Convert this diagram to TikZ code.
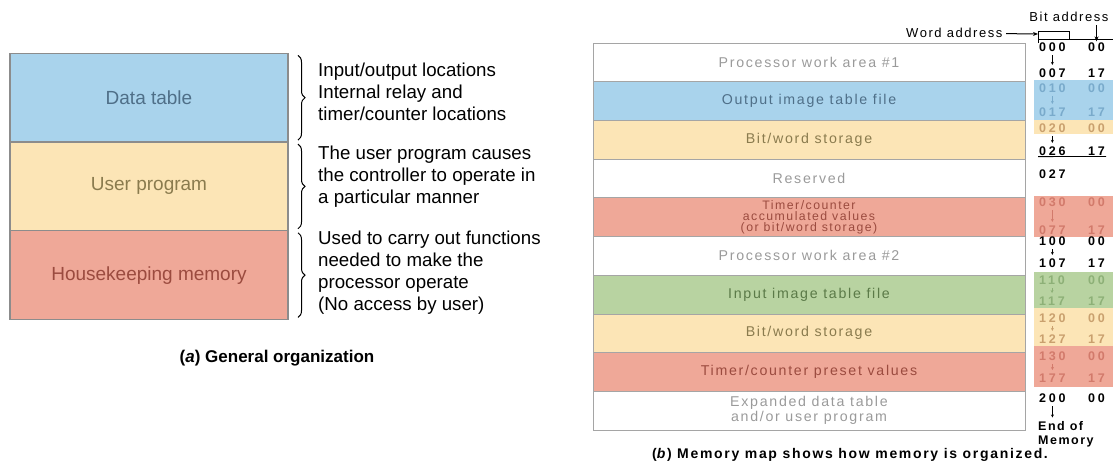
\documentclass[tikz,border=0pt]{standalone}
\usepackage{fontspec}
\setmainfont{Liberation Sans}
\newfontfamily\spacedfont[LetterSpace=12]{Liberation Sans}
\newfontfamily\addrfont[LetterSpace=22]{Liberation Sans}
\usepackage{xcolor}
\usepackage{tikz}
\usetikzlibrary{positioning,decorations.pathreplacing,arrows.meta}

\definecolor{dtblue}{HTML}{A9D3EC}
\definecolor{upcream}{HTML}{FCE5B6}
\definecolor{hksalmon}{HTML}{EFA898}
\definecolor{iigreen}{HTML}{B8D3A1}
\definecolor{boxframe}{HTML}{8C8C8C}
\definecolor{mapframe}{HTML}{A5A5A5}
\definecolor{bluetxt}{HTML}{4F6F88}
\definecolor{creamtxt}{HTML}{8A7B4E}
\definecolor{salmontxt}{HTML}{9B4B3F}
\definecolor{greentxt}{HTML}{5B7A48}
\definecolor{greytxt}{HTML}{9A9A9A}
\definecolor{bluead}{HTML}{79AACB}
\definecolor{tanad}{HTML}{C9A06E}
\definecolor{redad}{HTML}{D27A6B}
\definecolor{greenad}{HTML}{8DB077}

\tikzset{
  leftrow/.style={draw=boxframe, line width=1.2pt, minimum width=278pt,
    minimum height=88.7pt, inner sep=0pt, outer sep=0pt,
    font=\fontsize{19}{22}\selectfont},
  maprow/.style={draw=mapframe, line width=0.8pt, minimum width=432pt,
    minimum height=38.7pt, inner sep=0pt, outer sep=0pt, align=center,
    text=greytxt, font=\spacedfont\fontsize{14.2}{15}\selectfont},
  note/.style={anchor=west, align=left, inner sep=0pt,
    font=\fontsize{18.7}{22}\selectfont},
  bracket/.style={decorate, decoration={brace, amplitude=7pt}, line width=1pt},
  addr/.style={anchor=west, inner sep=1pt,
    font=\addrfont\bfseries\fontsize{12.5}{14}\selectfont},
  addrtip/.style={-{Stealth[length=3pt,width=3pt]}, line width=0.8pt,
    shorten <=2.5pt, shorten >=2.5pt},
  tip/.style={-{Stealth[length=5pt,width=4pt]}, line width=1pt}
}

\begin{document}
\begin{tikzpicture}[x=1pt, y=-1pt, on grid]
  \useasboundingbox (0,0) rectangle (1113,466);

  % (a) general organization
  \node[leftrow, fill=dtblue, text=bluetxt] (dt) at (149,97.7) {Data table};
  \node[leftrow, fill=upcream, text=creamtxt, below=88.7pt of dt] (up) {User program};
  \node[leftrow, fill=hksalmon, text=salmontxt, below=88.7pt of up] (hk) {Housekeeping memory};

  \draw[bracket] ([xshift=10pt,yshift=-2pt]dt.north east) -- ([xshift=10pt,yshift=2pt]dt.south east);
  \draw[bracket] ([xshift=10pt,yshift=-2pt]up.north east) -- ([xshift=10pt,yshift=2pt]up.south east);
  \draw[bracket] ([xshift=10pt,yshift=-2pt]hk.north east) -- ([xshift=10pt,yshift=2pt]hk.south east);

  \node[note] (n1) at (318,92) {Input/output locations\\Internal relay and\\timer/counter locations};
  \node[note] (n2) at (318,177) {The user program causes\\the controller to operate in\\a particular manner};
  \node[note] (n3) at (318,273) {Used to carry out functions\\needed to make the\\processor operate\\(No access by user)};

  \node[font=\bfseries\fontsize{17}{20}\selectfont] (capa) at (277,358) {(\textit{a}) General organization};

  % (b) memory map
  \fill[dtblue] (1034,80) rectangle (1113,120);
  \fill[upcream] (1034,120) rectangle (1113,134);
  \fill[hksalmon] (1034,196) rectangle (1113,237);
  \fill[iigreen] (1034,272) rectangle (1113,308);
  \fill[upcream] (1034,308) rectangle (1113,346);
  \fill[hksalmon] (1034,346) rectangle (1113,387);

  \node[maprow] (r1) at (809,62.35) {Processor work area \#1};
  \node[maprow, fill=dtblue, text=bluetxt, below=38.7pt of r1] (r2) {Output image table file};
  \node[maprow, fill=upcream, text=creamtxt, below=38.7pt of r2] (r3) {Bit/word storage};
  \node[maprow, below=38.7pt of r3] (r4) {Reserved};
  \node[maprow, fill=hksalmon, text=salmontxt, below=38.7pt of r4,
    font=\spacedfont\fontsize{12.3}{10.8}\selectfont] (r5) {Timer/counter\\accumulated values\\(or bit/word storage)};
  \node[maprow, below=38.7pt of r5] (r6) {Processor work area \#2};
  \node[maprow, fill=iigreen, text=greentxt, below=38.7pt of r6] (r7) {Input image table file};
  \node[maprow, fill=upcream, text=creamtxt, below=38.7pt of r7] (r8) {Bit/word storage};
  \node[maprow, fill=hksalmon, text=salmontxt, below=38.7pt of r8] (r9) {Timer/counter preset values};
  \node[maprow, below=38.7pt of r9] (r10) {Expanded data table\\and/or user program};

  % addresses
  \foreach \w/\b/\y/\c in {000/00/47/black, 007/17/73/black, 010/00/88/bluead,
      017/17/112/bluead, 020/00/128/tanad, 026/17/151/black, 030/00/202/redad,
      077/17/230/redad, 100/00/241/black, 107/17/263/black, 110/00/280/greenad,
      117/17/301/greenad, 120/00/318/tanad, 127/17/339/tanad, 130/00/356/redad,
      177/17/378/redad, 200/00/398/black}
  {
    \node[addr, text=\c] (w\y) at (1038,\y) {\w};
    \node[addr, text=\c] (b\y) at (1087,\y) {\b};
  }
  \node[addr] (w174) at (1038,174) {027};
  \node[addr, anchor=north west, align=left, font=\spacedfont\bfseries\fontsize{12.5}{14}\selectfont] (eom) at (1037,420) {End of\\Memory};

  \foreach \a/\b/\c in {47/73/black, 88/112/bluead, 128/151/black, 202/230/redad,
      241/263/black, 280/301/greenad, 318/339/tanad, 356/378/redad}
    \draw[addrtip, \c] (w\a) -- (w\b);
  \draw[addrtip] (w398) -- (eom.north -| w398);
  \draw[line width=0.8pt] (w151.south west) -- (b151.south east);

  % address legend
  \node[font=\spacedfont\fontsize{13}{15}\selectfont, anchor=east] (wordaddr) at (1006,33) {Word address};
  \node[font=\spacedfont\fontsize{13}{15}\selectfont, anchor=east] (bitaddr) at (1112,17) {Bit address};
  \coordinate (brk) at (1038,34);
  \draw[tip] (wordaddr) -- (brk);
  \draw[line width=0.8pt] (1038,39) -- (1038,31) -- (1069,31) -- (1069,39);
  \draw[line width=0.8pt] (1038,43) -- (1038,39) -- (1113,39);
  \draw[tip] (bitaddr.south -| b47) -- (b47.north);

  \node[font=\spacedfont\bfseries\fontsize{14}{16}\selectfont] (capb) at (850,455) {(\textit{b}) Memory map shows how memory is organized.};
\end{tikzpicture}
\end{document}
